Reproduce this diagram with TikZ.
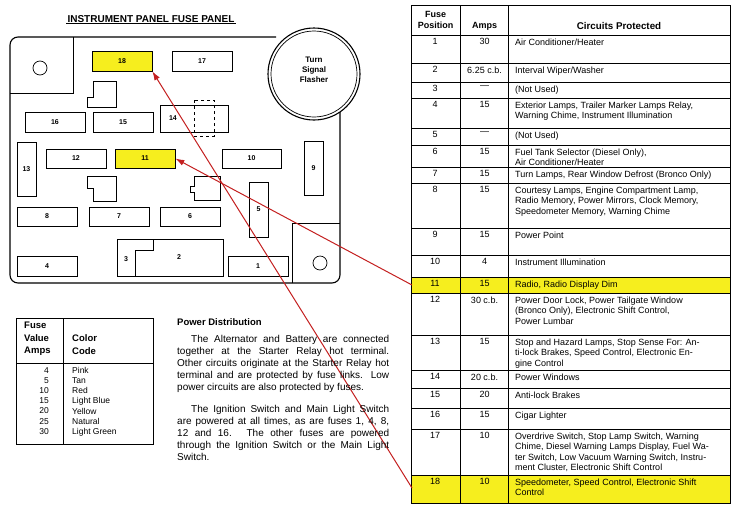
\documentclass[tikz,border=0pt]{standalone}
\usepackage{fontspec}
\setmainfont{Liberation Sans}
\usetikzlibrary{arrows.meta}
\definecolor{fy}{RGB}{246,238,30}
\definecolor{ar}{RGB}{196,32,32}
\begin{document}
\begin{tikzpicture}[x=1pt,y=-1pt,
  fuse/.style={draw,line width=0.7pt,font=\fontsize{7}{8}\selectfont\bfseries},
  cell/.style={font=\fontsize{9}{10.4}\selectfont,inner sep=0pt},
  ptxt/.style={font=\fontsize{10}{12}\selectfont,inner sep=0pt,align=justify,text width=212pt,anchor=north west}]
\useasboundingbox (0,0) rectangle (736,517);
\fill[white] (0,0) rectangle (736,517);
% title
\node[font=\fontsize{10}{11}\selectfont\bfseries,inner sep=1pt] (title) at (151,19) {INSTRUMENT PANEL FUSE PANEL};
\draw[line width=0.6pt] (title.south west) -- (title.south east);
% panel outline
\draw[line width=1.1pt,rounded corners=8pt] (276,37) -- (10,37) -- (10,283) -- (340,283) -- (340,112);
\draw[line width=1.1pt] (314,74) circle (46);
\draw[line width=0.7pt] (314,74) circle (43);
\node[font=\fontsize{8}{10}\selectfont\bfseries,align=center] (tsf) at (314,70) {Turn\\Signal\\Flasher};
\draw[line width=0.6pt] (10,93) -- (73,93) -- (73,37);
\draw[line width=0.6pt] (292,283) -- (292,223) -- (340,223);
\draw[line width=0.7pt] (40,68) circle (7);
\draw[line width=0.7pt] (320,263) circle (7);
% fuses
\node[fuse,fill=fy,minimum width=60pt,minimum height=20pt] (f18) at (122,61) {18};
\node[fuse,minimum width=60pt,minimum height=20pt] (f17) at (202,61) {17};
\node[fuse,minimum width=60pt,minimum height=20pt] (f16) at (55,122) {16};
\node[fuse,minimum width=60pt,minimum height=20pt] (f15) at (123,122) {15};
\node[fuse,minimum width=68pt,minimum height=27pt,text width=50pt] (f14) at (194,118.5) {14};
\draw[dashed,line width=0.7pt] (194,100) rectangle (214,136);
\node[fuse,minimum width=19pt,minimum height=54pt] (f13) at (26.5,169) {13};
\node[fuse,minimum width=60pt,minimum height=19pt] (f12) at (76,158.5) {12};
\node[fuse,fill=fy,minimum width=60pt,minimum height=19pt] (f11) at (145,158.5) {11};
\node[fuse,minimum width=59pt,minimum height=19pt] (f10) at (251.5,158.5) {10};
\node[fuse,minimum width=19pt,minimum height=54pt] (f9) at (313.5,168) {9};
\node[fuse,minimum width=19pt,minimum height=55pt] (f5) at (258.5,209.5) {5};
\node[fuse,minimum width=60pt,minimum height=19pt] (f8) at (47,216.5) {8};
\node[fuse,minimum width=60pt,minimum height=19pt] (f7) at (119,216.5) {7};
\node[fuse,minimum width=60pt,minimum height=19pt] (f6) at (190,216.5) {6};
\node[fuse,minimum width=60pt,minimum height=20pt] (f4) at (47,266) {4};
\node[fuse,minimum width=60pt,minimum height=20pt] (f1) at (258,266) {1};
\draw[line width=0.7pt] (117,239) rectangle (223,276);
\draw[line width=0.7pt] (135,276) -- (135,250) -- (153,250) -- (153,239);
\node[font=\fontsize{7}{8}\selectfont\bfseries] (f3) at (126,259) {3};
\node[font=\fontsize{7}{8}\selectfont\bfseries] (f2) at (179,257) {2};
% relay shapes
\draw[line width=0.7pt] (93,81) -- (116,81) -- (116,107) -- (87,107) -- (87,97) -- (93,97) -- cycle;
\draw[line width=0.7pt] (87,176) -- (116,176) -- (116,201) -- (93,201) -- (93,188) -- (87,188) -- cycle;
\draw[line width=0.7pt] (194,176) -- (220,176) -- (220,200) -- (194,200) -- (194,192) -- (190,192) -- (190,186) -- (194,186) -- cycle;
% main table
\fill[fy] (411,277) rectangle (730,293);
\fill[fy] (411,475) rectangle (730,503);
\foreach \t/\b/\n/\a/\c in {
 35/63/1/30/{Air Conditioner/Heater},
 63/82/2/{6.25 c.b.}/{Interval Wiper/Washer},
 82/98/3/{\raisebox{-2pt}{---}}/{(Not Used)},
 98/128/4/15/{Exterior Lamps, Trailer Marker Lamps Relay,\\Warning Chime, Instrument Illumination},
 128/145/5/{\raisebox{-2pt}{---}}/{(Not Used)},
 145/167/6/15/{Fuel Tank Selector (Diesel Only),\\Air Conditioner/Heater},
 167/183/7/15/{Turn Lamps, Rear Window Defrost (Bronco Only)},
 183/228/8/15/{Courtesy Lamps, Engine Compartment Lamp,\\Radio Memory, Power Mirrors, Clock Memory,\\Speedometer Memory, Warning Chime},
 228/255/9/15/{Power Point},
 255/277/10/4/{Instrument Illumination},
 277/293/11/15/{Radio, Radio Display Dim},
 293/335/12/{30 c.b.}/{Power Door Lock, Power Tailgate Window\\(Bronco Only), Electronic Shift Control,\\Power Lumbar},
 335/370/13/15/{Stop and Hazard Lamps, Stop Sense For: An-\\ti-lock Brakes, Speed Control, Electronic En-\\gine Control},
 370/388/14/{20 c.b.}/{Power Windows},
 388/408/15/20/{Anti-lock Brakes},
 408/429/16/15/{Cigar Lighter},
 429/475/17/10/{Overdrive Switch, Stop Lamp Switch, Warning\\Chime, Diesel Warning Lamps Display, Fuel Wa-\\ter Switch, Low Vacuum Warning Switch, Instru-\\ment Cluster, Electronic Shift Control},
 475/503/18/10/{Speedometer, Speed Control, Electronic Shift\\Control}}{
  \draw[line width=0.6pt] (411,\b) -- (730,\b);
  \node[cell,anchor=north] (n\n) at (435,\t+3.5) {\n};
  \node[cell,anchor=north] (a\n) at (484.5,\t+3.5) {\a};
  \node[cell,anchor=north west,align=left] (c\n) at (515,\t+3.5) {\c};
}
\node[cell,font=\fontsize{9}{11}\selectfont\bfseries,align=center] (h1) at (435.5,20) {Fuse\\Position};
\node[cell,font=\fontsize{9}{11}\selectfont\bfseries] (h2) at (484.5,26) {Amps};
\node[cell,font=\fontsize{9.8}{11}\selectfont\bfseries] (h3) at (619,26) {Circuits Protected};
\draw[line width=0.6pt] (411,35) -- (730,35);
\draw[line width=1pt] (411,5) rectangle (730,503);
\draw[line width=0.8pt] (460,5) -- (460,503) (508,5) -- (508,503);
\coordinate (r11) at (412,285);
\coordinate (r18) at (412,488);
% arrows
\draw[ar,line width=1pt,-{Latex[length=9pt,width=6pt]}] (r18) -- (f18.south east);
\draw[ar,line width=1pt,-{Latex[length=9pt,width=6pt]}] (r11) -- (f11.east);
% colour code table
\draw[line width=1pt] (16,318) rectangle (153,444);
\draw[line width=0.8pt] (63,318) -- (63,444) (16,363) -- (153,363);
\node[cell,font=\fontsize{9.5}{12.5}\selectfont\bfseries,align=left,anchor=north west] (cc1) at (24,322) {Fuse\\Value\\Amps};
\node[cell,font=\fontsize{9.5}{12.5}\selectfont\bfseries,align=left,anchor=north west] (cc2) at (72,334.5) {Color\\Code};
\node[cell,font=\fontsize{8.5}{10.2}\selectfont,align=right,anchor=north east] (cc3) at (49,367) {4\\5\\10\\15\\20\\25\\30};
\node[cell,font=\fontsize{8.5}{10.2}\selectfont,align=left,anchor=north west] (cc4) at (72,367) {Pink\\Tan\\Red\\Light Blue\\Yellow\\Natural\\Light Green};
% power distribution
\node[cell,font=\fontsize{9.5}{11}\selectfont\bfseries,anchor=north west] (pd) at (177,318) {Power Distribution};
\node[ptxt] (p1) at (177,335) {\hyphenpenalty=10000\hspace*{14pt}The Alternator and Battery are connected\linebreak together at the Starter Relay hot terminal.\linebreak Other circuits originate at the Starter Relay hot\linebreak terminal and are protected by fuse links. Low\linebreak power circuits are also protected by fuses.};
\node[ptxt] (p2) at (177,405) {\hyphenpenalty=10000\hspace*{14pt}The Ignition Switch and Main Light Switch\linebreak are powered at all times, as are fuses 1, 4, 8,\linebreak 12 and 16. The other fuses are powered\linebreak through the Ignition Switch or the Main Light\linebreak Switch.};
\end{tikzpicture}
\end{document}
